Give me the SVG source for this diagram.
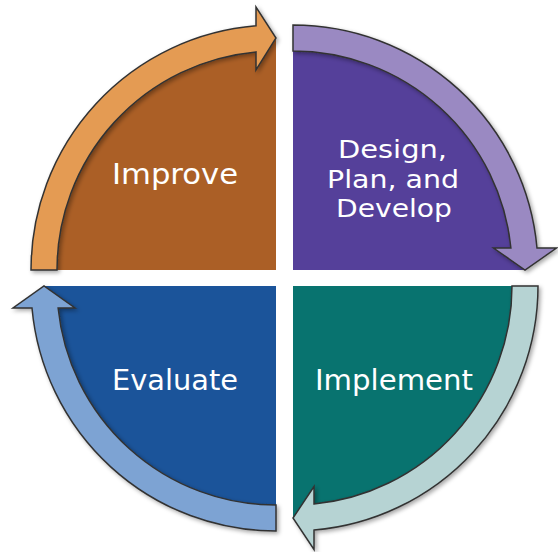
<svg xmlns="http://www.w3.org/2000/svg" width="558" height="552" viewBox="0 0 558 552">
<defs>
<filter id="sh" x="-10%" y="-10%" width="120%" height="120%">
<feDropShadow dx="2" dy="2" stdDeviation="2" flood-color="#000" flood-opacity="0.35"/>
</filter>
<style>
.arrow{stroke:#333;stroke-width:1.5;stroke-linejoin:miter;filter:url(#sh)}
.lbl{font-family:"DejaVu Sans","Verdana",sans-serif;font-size:28px;fill:#fff;text-anchor:middle}
.sm{font-size:25px}
</style>
</defs>
<rect width="558" height="552" fill="#fff"/>
<g id="improve">
<path d="M276,270 L44,270 A232,232 0 0 1 276,38 Z" fill="#AB5F26"/>
<text class="lbl" x="175" y="183.5" textLength="126" lengthAdjust="spacingAndGlyphs">Improve</text>
</g>
<g id="design">
<path d="M293,270 L293,38 A232,232 0 0 1 525,270 Z" fill="#55409A"/>
<text class="lbl sm" x="392.5" y="158" textLength="109" lengthAdjust="spacingAndGlyphs">Design,</text>
<text class="lbl sm" x="393" y="187.5" textLength="132" lengthAdjust="spacingAndGlyphs">Plan, and</text>
<text class="lbl sm" x="394" y="217.3" textLength="116" lengthAdjust="spacingAndGlyphs">Develop</text>
</g>
<g id="implement">
<path d="M293,286 L525,286 A232,232 0 0 1 293,518 Z" fill="#08736F"/>
<text class="lbl" x="394" y="389.5" textLength="158" lengthAdjust="spacingAndGlyphs">Implement</text>
</g>
<g id="evaluate">
<path d="M276,286 L276,518 A232,232 0 0 1 44,286 Z" fill="#1B549A"/>
<text class="lbl" x="175" y="389.5" textLength="126" lengthAdjust="spacingAndGlyphs">Evaluate</text>
</g>
<g id="connectors">
<path class="arrow" fill="#E49B53" d="M31,270 A245,245 0 0 1 256,25.8 L256,7 L276,38 L256,70 L256,51.9 A219,219 0 0 0 57,270 Z"/>
<path class="arrow" fill="#9A89C2" d="M293,25 A245,245 0 0 1 537,248 L556.5,248 L525,270 L493.5,248 L510.9,248 A219,219 0 0 0 293,51 Z"/>
<path class="arrow" fill="#B6D3D3" d="M538,286 A245,245 0 0 1 314,530.1 L314,549.5 L293,518 L314,486.5 L314,504 A219,219 0 0 0 512,286 Z"/>
<path class="arrow" fill="#7DA3D3" d="M276,531 A245,245 0 0 1 32,308 L13,308 L44,286 L75,308 L58.1,308 A219,219 0 0 0 276,505 Z"/>
</g>
</svg>
